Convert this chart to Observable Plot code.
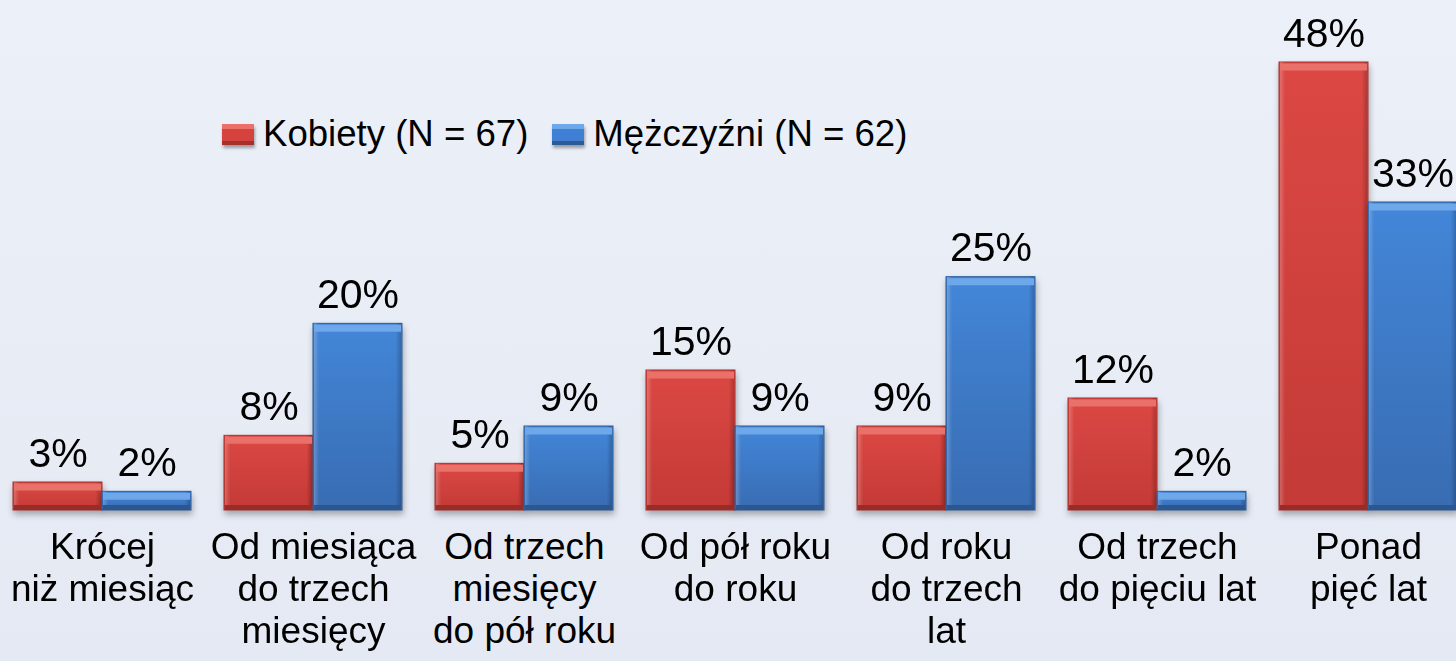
<!DOCTYPE html>
<html><head><meta charset="utf-8">
<script src="https://cdn.jsdelivr.net/npm/d3@7"></script>
<script src="https://cdn.jsdelivr.net/npm/@observablehq/plot@0.6"></script>
<style>
html,body{margin:0;padding:0;overflow:hidden;width:1456px;height:661px;background:#e8edf6;}
#wrap{position:relative;width:1456px;height:661px;overflow:hidden;background:linear-gradient(#ecf0f8,#e4e9f3);}
#chart{position:absolute;left:-6.5px;top:0;width:1483px;height:661px;}
#chart svg{max-width:none !important;width:1483px;height:661px;}
#legend{position:absolute;left:222px;top:113px;font-family:"Liberation Sans",Arial,sans-serif;font-size:36.6px;display:flex;align-items:center;color:#000;white-space:nowrap;}
.sw{width:32px;height:21px;display:inline-block;margin-right:9px;box-shadow:1px 3px 3px rgba(0,0,0,.35);}
.item{display:flex;align-items:center;margin-right:24px;}
</style></head><body>
<div id="wrap"><div id="chart"></div><div id="legend"></div></div>
<script>
const categories = ["c1","c2","c3","c4","c5","c6","c7"];
const categoryLabels = [
  "Krócej\nniż miesiąc",
  "Od miesiąca\ndo trzech\nmiesięcy",
  "Od trzech\nmiesięcy\ndo pół roku",
  "Od pół roku\ndo roku",
  "Od roku\ndo trzech\nlat",
  "Od trzech\ndo pięciu lat",
  "Ponad\npięć lat"
];
const series = ["Kobiety (N = 67)", "Mężczyźni (N = 62)"];
const kobiety = [3, 8, 5, 15, 9, 12, 48];
const mezczyzni = [2, 20, 9, 9, 25, 2, 33];

const data = categories.flatMap((c, i) => [
  {cat: c, s: series[0], v: kobiety[i]},
  {cat: c, s: series[1], v: mezczyzni[i]}
]);
const red = data.filter(d => d.s === series[0]);
const blue = data.filter(d => d.s === series[1]);
const labels = categories.map((c, i) => ({cat: c, label: categoryLabels[i]}));

const chart = Plot.plot({
  width: 1483, height: 661,
  marginLeft: 0, marginRight: 0, marginTop: 62, marginBottom: 151,
  style: {background: "transparent", overflow: "visible", fontFamily: "'Liberation Sans', Arial, sans-serif"},
  fx: {domain: categories, axis: null, paddingInner: 0.156, paddingOuter: 0.078},
  x: {domain: series, axis: null, padding: 0},
  y: {domain: [0, 48], axis: null},
  marks: [
    Plot.barY(red, {fx: "cat", x: "s", y: "v", fill: "url(#gRed)", stroke: "#a3302c", strokeWidth: 1}),
    Plot.barY(blue, {fx: "cat", x: "s", y: "v", fill: "url(#gBlue)", stroke: "#2d5a96", strokeWidth: 1}),
    Plot.barY(data, {fx: "cat", x: "s", y: "v", fill: "url(#gSide)", insetLeft: 1, insetRight: 1}),
    Plot.tickY(red, {fx: "cat", x: "s", y: "v", stroke: "#ea706a", strokeWidth: 7, dy: 4.5, insetLeft: 1, insetRight: 1}),
    Plot.tickY(blue, {fx: "cat", x: "s", y: "v", stroke: "#6ea7ea", strokeWidth: 7, dy: 4.5, insetLeft: 1, insetRight: 1}),
    Plot.tickY(red, {fx: "cat", x: "s", y: 0, stroke: "#9a2c28", strokeWidth: 5, dy: -3, insetLeft: 1, insetRight: 1}),
    Plot.tickY(blue, {fx: "cat", x: "s", y: 0, stroke: "#2b5690", strokeWidth: 5, dy: -3, insetLeft: 1, insetRight: 1}),
    Plot.text(data, {fx: "cat", x: "s", y: "v", text: d => d.v + "%", lineAnchor: "bottom", dy: -16, fontSize: 41, fill: "#000"}),
    Plot.text(labels, {fx: "cat", text: "label", frameAnchor: "bottom", lineAnchor: "top", dy: 19, fontSize: 37, lineHeight: 1.13, fill: "#000"})
  ]
});

chart.insertAdjacentHTML("afterbegin", `<defs>
<linearGradient id="gRed" x1="0" y1="0" x2="0" y2="1"><stop offset="0" stop-color="#dc4844"/><stop offset="1" stop-color="#c33a36"/></linearGradient>
<linearGradient id="gBlue" x1="0" y1="0" x2="0" y2="1"><stop offset="0" stop-color="#4386d8"/><stop offset="1" stop-color="#386cb2"/></linearGradient>
<linearGradient id="gSide" x1="0" y1="0" x2="1" y2="0"><stop offset="0" stop-color="#fff" stop-opacity="0.22"/><stop offset="0.06" stop-color="#fff" stop-opacity="0"/><stop offset="0.94" stop-color="#000" stop-opacity="0"/><stop offset="1" stop-color="#000" stop-opacity="0.2"/></linearGradient>
</defs>`);
const bars = chart.querySelectorAll('g[aria-label="bar"]');
if (bars[0]) bars[0].style.filter = "drop-shadow(1px 4px 3px rgba(0,0,0,0.3))";
if (bars[1]) bars[1].style.filter = "drop-shadow(1px 4px 3px rgba(0,0,0,0.3))";
document.getElementById("chart").appendChild(chart);

const legend = document.getElementById("legend");
const swatchBg = [
  "linear-gradient(#ec6f69 0 25%, #d6423e 25% 80%, #a3302c 80%)",
  "linear-gradient(#6ea7ea 0 25%, #3f80d4 25% 80%, #2d5a96 80%)"
];
series.forEach((s, i) => {
  const it = document.createElement("span");
  it.className = "item";
  const sw = document.createElement("span");
  sw.className = "sw";
  sw.style.background = swatchBg[i];
  it.appendChild(sw);
  it.appendChild(document.createTextNode(s));
  legend.appendChild(it);
});
</script>
</body></html>
